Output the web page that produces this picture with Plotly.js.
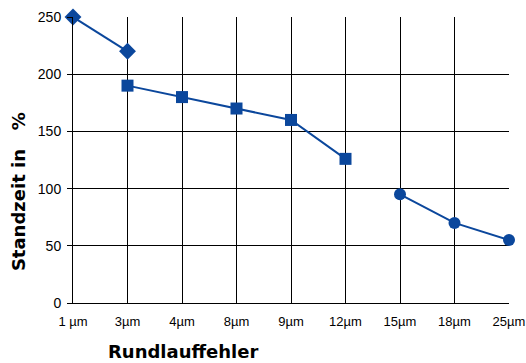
<!DOCTYPE html>
<html>
<head>
<meta charset="utf-8">
<script src="https://cdn.plot.ly/plotly-3.0.1.min.js"></script>
<style>html,body{margin:0;padding:0;background:#fff;}#chart{width:526px;height:363px;}</style>
</head>
<body>
<div id="chart"></div>
<script>
const categories = ["1 µm", "3µm", "4µm", "8µm", "9µm", "12µm", "15µm", "18µm", "25µm"];
const diamondX = ["1 µm", "3µm"];
const diamondY = [250, 220];
const squareX = ["3µm", "4µm", "8µm", "9µm", "12µm"];
const squareY = [190, 180, 170, 160, 126];
const circleX = ["15µm", "18µm", "25µm"];
const circleY = [95, 70, 55];
const yTicks = [0, 50, 100, 150, 200, 250];

const blue = "#0B479C";
function series(x, y, symbol, size) {
  return {
    x: x, y: y, type: "scatter", mode: "lines+markers", cliponaxis: false,
    line: {color: blue, width: 2},
    marker: {symbol: symbol, size: size, color: blue},
    showlegend: false
  };
}
const data = [
  series(diamondX, diamondY, "diamond", 13),
  series(squareX, squareY, "square", 12),
  series(circleX, circleY, "circle", 12)
];
const layout = {
  width: 526, height: 363,
  margin: {l: 73, r: 17, t: 17, b: 60},
  paper_bgcolor: "#fff", plot_bgcolor: "#fff",
  font: {family: "Liberation Sans, Arial, sans-serif", color: "#000", size: 13},
  xaxis: {
    type: "category", categoryorder: "array", categoryarray: categories,
    tickvals: categories, ticktext: categories,
    range: [0, categories.length - 1],
    showgrid: true, gridcolor: "#000", gridwidth: 1,
    showline: true, linecolor: "#000", linewidth: 1,
    ticks: "", zeroline: false, ticklabelstandoff: 6,
    tickfont: {size: 13}
  },
  yaxis: {
    range: [0, 250], tickvals: yTicks,
    showgrid: true, gridcolor: "#000", gridwidth: 1,
    showline: true, linecolor: "#000", linewidth: 1,
    ticks: "outside", ticklen: 5, tickcolor: "#000",
    zeroline: false, ticklabelstandoff: 3, tickfont: {size: 14}
  },
  annotations: [
    {text: "<b>Rundlauffehler</b>", xref: "paper", yref: "paper", x: 0.252, y: -0.171,
     xanchor: "center", yanchor: "middle", showarrow: false,
     font: {family: "DejaVu Sans, sans-serif", size: 18, color: "#000"}},
    {text: "<b>Standzeit in &nbsp;&nbsp;%</b>", xref: "paper", yref: "paper", x: -0.126, y: 0.388,
     xanchor: "center", yanchor: "middle", showarrow: false, textangle: -90,
     font: {family: "DejaVu Sans, sans-serif", size: 18, color: "#000"}}
  ]
};
Plotly.newPlot("chart", data, layout, {displayModeBar: false, staticPlot: true});
</script>
</body>
</html>
